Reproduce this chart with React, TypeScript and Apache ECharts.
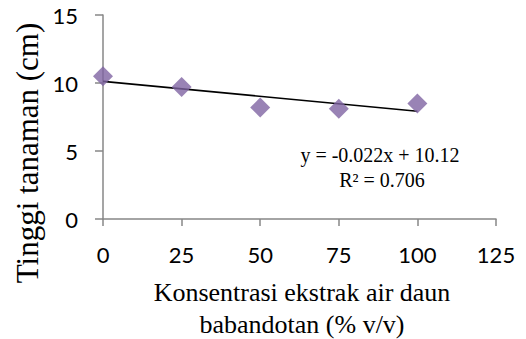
import React, { useEffect, useRef } from "react";
import * as echarts from "echarts";

const concentrations = [0, 25, 50, 75, 100];
const heights = [10.5, 9.7, 8.2, 8.1, 8.5];
const trendX = [0, 100];
const trendY = [10.12, 7.92];
const equationLines = ["y = -0.022x + 10.12", "R² = 0.706"];
const xTitleLines = ["Konsentrasi ekstrak air daun", "babandotan (% v/v)"];
const yTitle = "Tinggi tanaman (cm)";

const SERIF = "Liberation Serif";

export default function App() {
  const ref = useRef<HTMLDivElement>(null);
  useEffect(() => {
    if (!ref.current) return;
    const chart = echarts.init(ref.current, null, { renderer: "svg" });
    const axisColor = "#878787";
    chart.setOption({
      animation: false,
      backgroundColor: "#ffffff",
      grid: { left: 103, right: 30, top: 15, bottom: 120, containLabel: false },
      xAxis: {
        type: "value",
        min: 0,
        max: 125,
        interval: 25,
        axisLine: { show: true, onZero: false, lineStyle: { color: axisColor, width: 1.5 } },
        axisTick: { show: true, length: 7, lineStyle: { color: axisColor, width: 1.5 } },
        splitLine: { show: false },
        axisLabel: { color: "#000", fontFamily: "Lato", fontSize: 22, margin: 24 },
      },
      yAxis: {
        type: "value",
        min: 0,
        max: 15,
        interval: 5,
        axisLine: { show: true, onZero: false, lineStyle: { color: axisColor, width: 1.5 } },
        axisTick: { show: true, length: 8, lineStyle: { color: axisColor, width: 1.5 } },
        splitLine: { show: false },
        axisLabel: { color: "#000", fontFamily: "Lato", fontSize: 22, margin: 25 },
      },
      series: [
        {
          type: "line",
          data: trendX.map((x, i) => [x, trendY[i]]),
          symbol: "none",
          lineStyle: { color: "#000", width: 1.6 },
          z: 2,
        },
        {
          type: "scatter",
          data: concentrations.map((x, i) => [x, heights[i]]),
          symbol: "diamond",
          symbolSize: 20,
          itemStyle: { color: "#8064A2" },
          z: 3,
        },
      ],
      graphic: [
        {
          type: "text",
          x: 27,
          y: 153,
          rotation: Math.PI / 2,
          style: {
            text: yTitle,
            fontFamily: SERIF,
            fontSize: 31,
            fill: "#000",
            align: "center",
            verticalAlign: "middle",
          },
        },
        {
          type: "text",
          x: 302,
          y: 292,
          style: {
            text: xTitleLines[0],
            fontFamily: SERIF,
            fontSize: 26,
            fill: "#000",
            align: "center",
            verticalAlign: "middle",
          },
        },
        {
          type: "text",
          x: 302,
          y: 324,
          style: {
            text: xTitleLines[1],
            fontFamily: SERIF,
            fontSize: 26,
            fill: "#000",
            align: "center",
            verticalAlign: "middle",
          },
        },
        {
          type: "text",
          x: 380,
          y: 155,
          style: {
            text: equationLines[0],
            fontFamily: SERIF,
            fontSize: 20,
            fill: "#000",
            align: "center",
            verticalAlign: "middle",
          },
        },
        {
          type: "text",
          x: 382,
          y: 180,
          style: {
            text: equationLines[1],
            fontFamily: SERIF,
            fontSize: 20,
            fill: "#000",
            align: "center",
            verticalAlign: "middle",
          },
        },
      ],
    });
    return () => chart.dispose();
  }, []);
  return <div ref={ref} style={{ width: 526, height: 339, position: "absolute", left: 0, top: 0 }} />;
}
